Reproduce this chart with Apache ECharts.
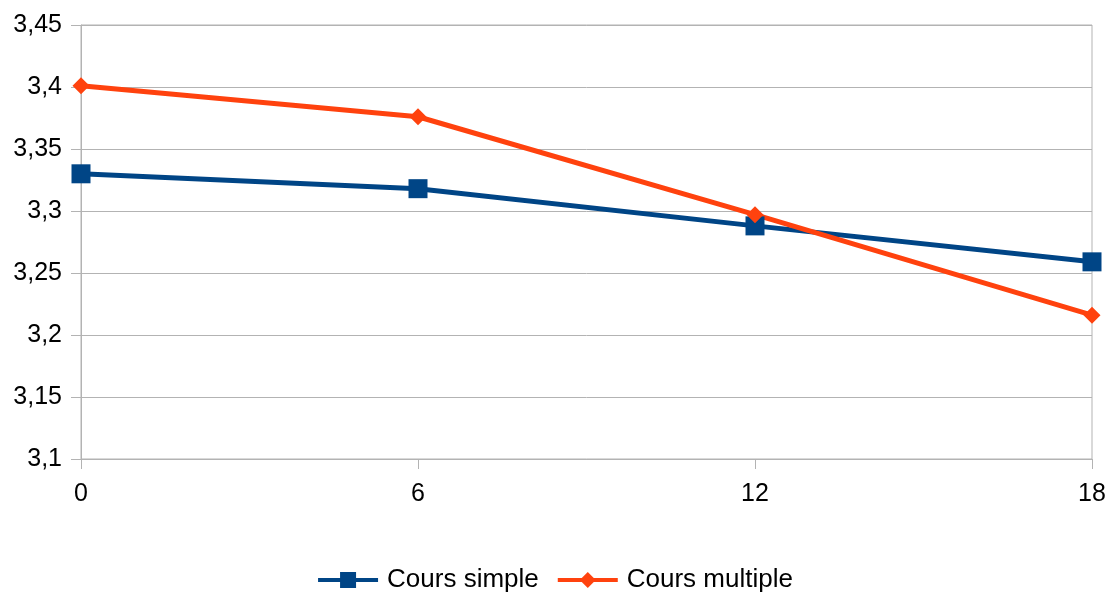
<!DOCTYPE html>
<html>
<head>
<meta charset="utf-8">
<script src="https://cdn.jsdelivr.net/npm/echarts@6/dist/echarts.min.js"></script>
<style>
html,body{margin:0;padding:0;background:#fff;}
#c{width:1109px;height:592px;}
</style>
</head>
<body>
<div id="c"></div>
<script>
const xValues = [0, 6, 12, 18];
const coursSimple = [3.330, 3.318, 3.288, 3.259];
const coursMultiple = [3.401, 3.376, 3.297, 3.216];
const seriesNames = ['Cours simple', 'Cours multiple'];

const chart = echarts.init(document.getElementById('c'));
const fmt = v => String(+(+v).toFixed(2)).replace('.', ',');
const font = 'Liberation Sans, Arial, sans-serif';
chart.setOption({
  animation: false,
  grid: { left: 81, right: 17, top: 25, bottom: 133, show: true, borderColor: '#b3b3b3', borderWidth: 1, backgroundColor: 'transparent' },
  xAxis: {
    type: 'value', min: 0, max: 18, interval: 6,
    axisLine: { show: true, lineStyle: { color: '#b3b3b3', width: 1 } },
    axisTick: { show: true, length: 10, lineStyle: { color: '#b3b3b3' } },
    splitLine: { show: false },
    axisLabel: { color: '#000', fontSize: 25, fontFamily: font, margin: 23 }
  },
  yAxis: {
    type: 'value', min: 3.1, max: 3.45, interval: 0.05,
    axisLine: { show: true, lineStyle: { color: '#b3b3b3', width: 1 } },
    axisTick: { show: true, length: 10, lineStyle: { color: '#b3b3b3' } },
    splitLine: { show: true, lineStyle: { color: '#b3b3b3', width: 1 } },
    axisLabel: { color: '#000', fontSize: 25, fontFamily: font, margin: 19, formatter: fmt }
  },
  legend: {
    top: 562, left: 'center',
    itemWidth: 60, itemHeight: 20, itemGap: 17,
    lineStyle: { width: 4 },
    textStyle: { color: '#000', fontSize: 26, fontFamily: font, padding: [0, 0, 0, 4] },
    data: seriesNames
  },
  series: [
    {
      name: seriesNames[0], type: 'line',
      data: xValues.map((x, i) => [x, coursSimple[i]]),
      symbol: 'rect', symbolSize: 19,
      lineStyle: { color: '#004586', width: 5 },
      itemStyle: { color: '#004586' }
    },
    {
      name: seriesNames[1], type: 'line',
      data: xValues.map((x, i) => [x, coursMultiple[i]]),
      symbol: 'diamond', symbolSize: 17,
      lineStyle: { color: '#ff420e', width: 5 },
      itemStyle: { color: '#ff420e' }
    }
  ]
});
</script>
</body>
</html>
